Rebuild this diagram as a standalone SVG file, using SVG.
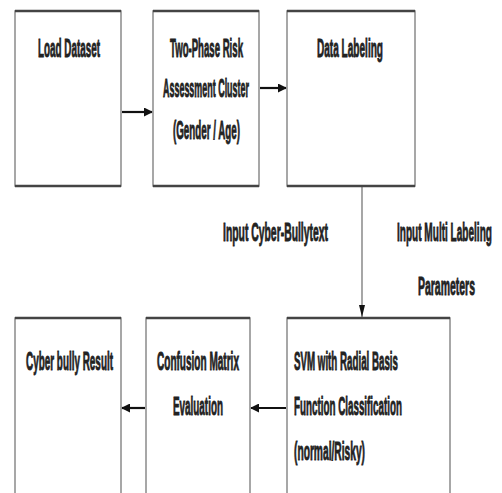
<svg xmlns="http://www.w3.org/2000/svg" width="502" height="493" viewBox="0 0 502 493">
<defs>
<style>
.box{fill:#fff;stroke:#8a8a8a;stroke-width:1.5}
.edge{stroke:#444;stroke-width:2.5}
.t{font-family:"Liberation Sans",Arial,sans-serif;font-weight:bold;font-size:26px;fill:#222;stroke:#222;stroke-width:0.9}
.arr{stroke:#111;stroke-width:2.2;fill:none}
.vline{stroke:#777;stroke-width:1.3;fill:none}
</style>
<marker id="ah" markerWidth="9" markerHeight="9" refX="8" refY="4.5" orient="auto" markerUnits="userSpaceOnUse">
<path d="M0,0 L9,4.5 L0,9 Z" fill="#111"/>
</marker>
<marker id="av" markerWidth="12" markerHeight="6" refX="12" refY="3" orient="auto" markerUnits="userSpaceOnUse">
<path d="M0,0 L12,3 L0,6 Z" fill="#111"/>
</marker>
</defs>
<rect width="502" height="493" fill="#fff"/>
<g id="connectors">
<line class="arr" x1="122" y1="112" x2="152" y2="112" marker-end="url(#ah)"/>
<line class="arr" x1="260" y1="88" x2="286" y2="88" marker-end="url(#ah)"/>
<line class="vline" x1="362" y1="187" x2="362" y2="317" marker-end="url(#av)"/>
<line class="arr" x1="286" y1="408" x2="251" y2="408" marker-end="url(#ah)"/>
<line class="arr" x1="145" y1="408" x2="122" y2="408" marker-end="url(#ah)"/>
</g>
<g id="load">
<rect class="box" x="15" y="11" width="106" height="175"/>
<line class="edge" x1="15" y1="11" x2="121" y2="11"/><line class="edge" x1="15" y1="186" x2="121" y2="186"/>
<text class="t" transform="translate(38,57) scale(0.45,1)" textLength="137.8" lengthAdjust="spacingAndGlyphs">Load Dataset</text>
</g>
<g id="twophase">
<rect class="box" x="153" y="11" width="106" height="175"/>
<line class="edge" x1="153" y1="11" x2="259" y2="11"/><line class="edge" x1="153" y1="186" x2="259" y2="186"/>
<text class="t" transform="translate(170,57) scale(0.45,1)" textLength="162.2" lengthAdjust="spacingAndGlyphs">Two-Phase  Risk</text>
<text class="t" transform="translate(163,97) scale(0.45,1)" textLength="191.1" lengthAdjust="spacingAndGlyphs">Assessment Cluster</text>
<text class="t" transform="translate(173,139) scale(0.45,1)" textLength="148.9" lengthAdjust="spacingAndGlyphs">(Gender  / Age)</text>
</g>
<g id="labeling">
<rect class="box" x="287" y="11" width="128" height="175"/>
<line class="edge" x1="287" y1="11" x2="415" y2="11"/><line class="edge" x1="287" y1="186" x2="415" y2="186"/>
<text class="t" transform="translate(317,57) scale(0.45,1)" textLength="146.7" lengthAdjust="spacingAndGlyphs">Data Labeling</text>
</g>
<g id="labels">
<text class="t" transform="translate(223,241) scale(0.45,1)" textLength="233.3" lengthAdjust="spacingAndGlyphs">Input Cyber-Bullytext</text>
<text class="t" transform="translate(397,241) scale(0.45,1)" textLength="211" lengthAdjust="spacingAndGlyphs">Input Multi Labeling</text>
<text class="t" transform="translate(418,295) scale(0.45,1)" textLength="126.7" lengthAdjust="spacingAndGlyphs">Parameters</text>
</g>
<g id="result">
<rect class="box" x="15" y="318" width="106" height="190"/>
<line class="edge" x1="15" y1="318" x2="121" y2="318"/>
<text class="t" transform="translate(26,370) scale(0.45,1)" textLength="193.3" lengthAdjust="spacingAndGlyphs">Cyber bully Result</text>
</g>
<g id="confusion">
<rect class="box" x="146" y="318" width="104" height="190"/>
<line class="edge" x1="146" y1="318" x2="250" y2="318"/>
<text class="t" transform="translate(157,370) scale(0.45,1)" textLength="182.2" lengthAdjust="spacingAndGlyphs">Confusion Matrix</text>
<text class="t" transform="translate(173,415) scale(0.45,1)" textLength="111.1" lengthAdjust="spacingAndGlyphs">Evaluation</text>
</g>
<g id="svm">
<rect class="box" x="287" y="318" width="163" height="190"/>
<line class="edge" x1="287" y1="318" x2="450" y2="318"/>
<text class="t" transform="translate(294,370) scale(0.45,1)" textLength="231.1" lengthAdjust="spacingAndGlyphs">SVM with Radial Basis</text>
<text class="t" transform="translate(294,415) scale(0.45,1)" textLength="240" lengthAdjust="spacingAndGlyphs">Function Classification</text>
<text class="t" transform="translate(294,460) scale(0.45,1)" textLength="157.8" lengthAdjust="spacingAndGlyphs">(normal/Risky)</text>
</g>
</svg>
